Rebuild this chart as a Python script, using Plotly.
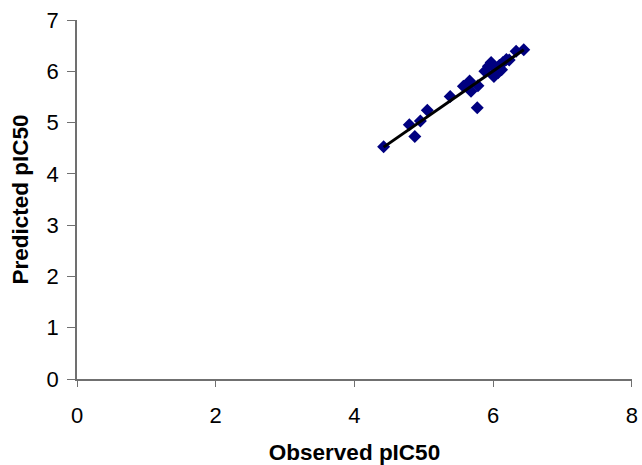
import numpy as np
import plotly.graph_objects as go

observed = [4.42, 4.87, 4.79, 4.95, 5.05, 5.38, 5.77, 5.57, 5.66, 5.68, 5.78,
            5.93, 5.97, 6.01, 6.07, 6.12, 6.14, 6.19, 5.88, 6.03, 6.33, 6.44, 6.23, 6.09]
predicted = [4.53, 4.73, 4.96, 5.03, 5.24, 5.51, 5.29, 5.71, 5.81, 5.61, 5.72,
             6.10, 6.17, 5.90, 5.97, 6.03, 6.17, 6.23, 6.00, 6.05, 6.39, 6.42, 6.22, 6.12]

x_ticks = [0, 2, 4, 6, 8]
y_ticks = [0, 1, 2, 3, 4, 5, 6, 7]

slope, intercept = np.polyfit(observed, predicted, 1)
fit_x = [min(observed), max(observed)]
fit_y = [slope * v + intercept for v in fit_x]

fig = go.Figure()
fig.add_trace(go.Scatter(x=observed, y=predicted, mode="markers",
                         marker=dict(symbol="diamond", size=10, color="#000080",
                                     line=dict(width=0)),
                         showlegend=False))
fig.add_trace(go.Scatter(x=fit_x, y=fit_y, mode="lines",
                         line=dict(color="black", width=3), showlegend=False))

fam = "Arial, Liberation Sans, sans-serif"
fig.update_layout(
    width=642, height=465,
    margin=dict(l=77, r=10, t=20, b=86),
    paper_bgcolor="white", plot_bgcolor="white",
    font=dict(family=fam, size=22, color="black"),
    xaxis=dict(range=[0, 8.0005], tickvals=x_ticks, showgrid=False, zeroline=False,
               showline=True, linecolor="#707070", linewidth=1.5,
               ticks="outside", ticklen=6, tickcolor="#707070",
               ticklabelstandoff=10, automargin=False,
               title=dict(text="<b>Observed pIC50</b>", standoff=19,
                          font=dict(family=fam, size=22.5))),
    yaxis=dict(range=[0, 7.0005], tickvals=y_ticks, showgrid=False, zeroline=False,
               showline=True, linecolor="#707070", linewidth=1.5,
               ticks="outside", ticklen=8, tickcolor="#707070",
               ticklabelstandoff=4, automargin=False,
               title=dict(text="<b>Predicted pIC50</b>", standoff=12,
                          font=dict(family=fam, size=22.5))),
)

fig.write_html("out.html", config={"displayModeBar": False},
               post_script="document.body.style.margin='0';document.body.style.overflow='hidden';")
